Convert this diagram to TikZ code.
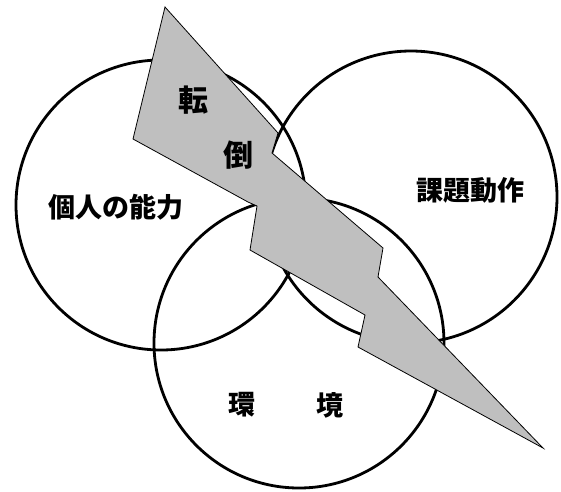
\documentclass[tikz,border=0pt]{standalone}
\usepackage{fontspec}
\newfontfamily\jp{Noto Sans CJK JP}
\tikzset{
  ring/.style={draw=black, line width=2.8pt, circle, inner sep=0pt},
  bolt/.style={draw=black, line width=0.8pt, fill=black!25, line join=miter},
  lbl/.style={font=\jp\bfseries\fontsize{27}{27}\selectfont, inner sep=0pt, text=black},
  biglbl/.style={lbl, font=\jp\bfseries\fontsize{30}{30}\selectfont}
}
\begin{document}
\begin{tikzpicture}[x=1pt,y=-1pt]
\useasboundingbox (0,0) rectangle (561,491);
\node[ring, minimum size=290pt] (left) at (161,205) {};
\node[ring, minimum size=292pt] (right) at (411,197) {};
\node[ring, minimum size=290pt] (bottom) at (299,343) {};
\draw[bolt] (165,7) -- (278,133) -- (272,153) -- (383,248) -- (378,277) -- (543,448)
  -- (358,347) -- (365,315) -- (250,250) -- (257,206) -- (248,202) -- (133,139) -- cycle;
\node[lbl] (a) at (116,207) {個人の能力};
\node[lbl] (b) at (470,190) {課題動作};
\node[biglbl] (c) at (193,100) {転};
\node[biglbl] (d) at (238,155) {倒};
\node[lbl] (e) at (242,405) {環};
\node[lbl] (f) at (330,405) {境};
\end{tikzpicture}
\end{document}
